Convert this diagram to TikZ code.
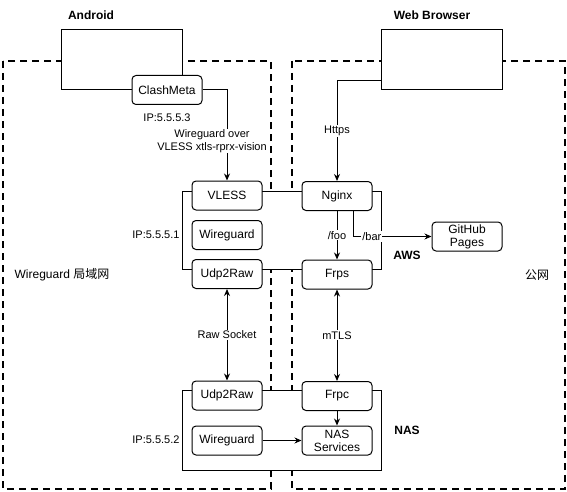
\documentclass[tikz,border=0pt]{standalone}
\usepackage{fontspec}
\setmainfont{Liberation Sans}
\newfontfamily\cjkfont{Noto Sans CJK SC}
\usetikzlibrary{arrows.meta}

\begin{document}
\begin{tikzpicture}[x=1pt, y=-1pt, line width=1pt,
		box/.style={draw, rounded corners=4pt, fill=white, minimum width=70pt, minimum height=29pt, align=center, inner sep=1pt, font=\fontsize{12}{13}\selectfont},
		host/.style={draw, fill=white, minimum width=121pt, minimum height=60pt},
		zone/.style={dash pattern=on 7pt off 5pt, line width=2pt},
		lbl/.style={fill=white, inner sep=1pt, align=center, font=\fontsize{11}{12.5}\selectfont},
		txt/.style={inner sep=1pt, font=\fontsize{12}{14}\selectfont},
		title/.style={inner sep=1pt, font=\bfseries\fontsize{12}{14}\selectfont},
		link/.style={-{Stealth[length=7pt, width=6pt]}},
		both/.style={{Stealth[length=7pt, width=6pt]}-{Stealth[length=7pt, width=6pt]}}]
		%%%%% START %%%%%
		\useasboundingbox (0, 0) rectangle (567, 492);
		
		% zones
		\draw[zone] (3, 61) rectangle (271, 489);
		\draw[zone] (292, 61) rectangle (565, 489);
		\node[txt] (lan) at (62, 275) {Wireguard {\cjkfont 局域网}};
		\node[txt] (wan) at (537, 275) {\cjkfont 公网};
		
		% hosts
		\draw[fill=white] (182, 191) rectangle (381, 269);
		\draw[fill=white] (182, 390) rectangle (381, 470);
		\node[host] (android) at (121.5, 60) {};
		\node[host] (browser) at (441.5, 60) {};
		\node[title] (androidtitle) at (91, 15) {Android};
		\node[title] (browsertitle) at (432, 15) {Web Browser};
		\node[title] (awstitle) at (407, 255) {AWS};
		\node[title] (nastitle) at (407, 430) {NAS};
		
		\node[box] (clash) at (167, 90) {ClashMeta};
		\node[lbl] (ip3) at (167, 118) {IP:5.5.5.3};
		
		\node[box] (vless) at (227, 195.5) {VLESS};
		\node[box] (wgaws) at (227, 235) {Wireguard};
		\node[box] (udpaws) at (227, 274) {Udp2Raw};
		\node[lbl, anchor=east] (ip1) at (181, 235) {IP:5.5.5.1};
		\node[box] (nginx) at (337, 196) {Nginx};
		\node[box] (frps) at (337, 274.5) {Frps};
		\node[box] (github) at (467, 236.5) {GitHub\\Pages};
		
		\node[box] (udpnas) at (227, 395.5) {Udp2Raw};
		\node[box] (wgnas) at (227, 440.5) {Wireguard};
		\node[lbl, anchor=east] (ip2) at (181, 440) {IP:5.5.5.2};
		\node[box] (frpc) at (337, 396) {Frpc};
		\node[box] (services) at (337, 440.5) {NAS\\Services};
		
		% links
		\draw[link] (clash.east) -| (vless.north);
		\node[lbl] (tunnel) at (212, 141) {Wireguard over\\VLESS xtls-rprx-vision};
		\draw[link] ([yshift=10pt]browser.south west) -| node[lbl, pos=0.75] {Https} (nginx.north);
		\draw[link] (nginx.south) -- node[lbl] {/foo} (frps.north);
		\draw[link] ([xshift=16pt]nginx.south) |- node[lbl, pos=0.62] {/bar} (github.west);
		\draw[both] (udpaws.south) -- node[lbl] {Raw Socket} (udpnas.north);
		\draw[both] (frps.south) -- node[lbl] {mTLS} (frpc.north);
		\draw[link] (frpc.south) -- (services.north);
		\draw[link] (wgnas.east) -- (services.west);
		%%%%% END %%%%%
\end{tikzpicture}
\end{document}
